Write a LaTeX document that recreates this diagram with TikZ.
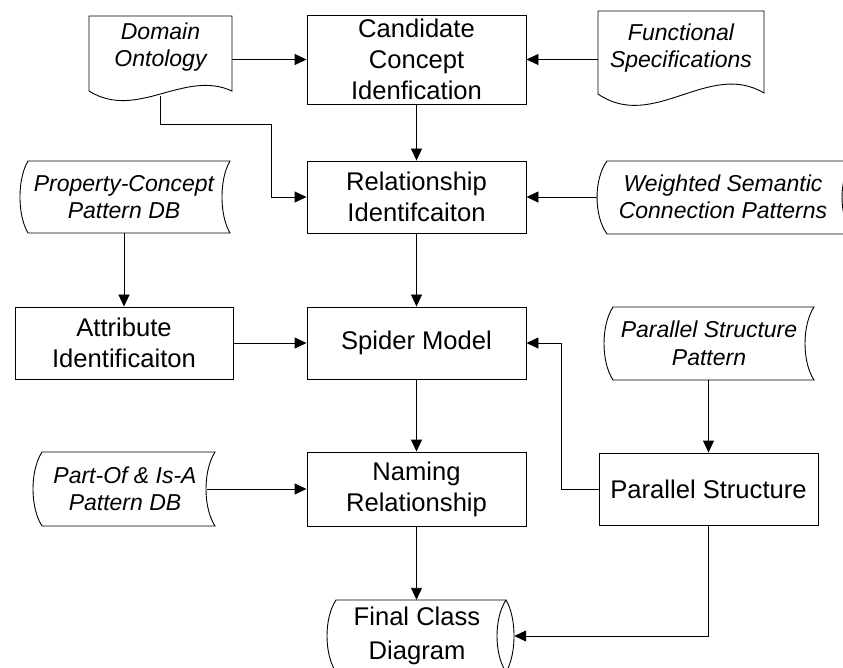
\documentclass[tikz,border=0pt]{standalone}
\usepackage{fontspec}
\setmainfont{Liberation Sans}
\usetikzlibrary{arrows.meta}
\begin{document}
\begin{tikzpicture}[x=1pt,y=-1pt,
  proc/.style={draw, line width=0.9pt, minimum width=219pt, minimum height=72pt, inner sep=0pt, align=center, font=\fontsize{25.6}{31}\selectfont},
  lbl/.style={inner sep=0pt, align=center, font=\fontsize{23}{27.5}\selectfont\itshape},
  outline/.style={draw, line width=0.9pt},
  conn/.style={line width=0.9pt, -{Triangle[length=12pt,width=11pt]}},
]
\useasboundingbox (0,0) rectangle (843,668);
\clip (0,0) rectangle (843,668);

% process boxes
\node[proc, minimum height=89pt] (cand) at (416.5,59.5) {Candidate\\Concept\\Idenfication};
\node[proc] (rel) at (416.5,197) {Relationship\\Identifcaiton};
\node[proc] (spider) at (416.5,343) {Spider Model};
\node[proc, minimum height=74pt] (naming) at (416.5,489) {Naming\\Relationship};
\node[proc, minimum width=218pt] (attr) at (124,343) {Attribute\\Identificaiton};
\node[proc] (par) at (708.5,489) {Parallel Structure};

% document shapes
\draw[outline] (89,16) -- (232,16) -- (232,91) .. controls (184,69) and (137,121) .. (89,91) -- cycle;
\draw[outline] (598,11) -- (764,11) -- (764,93) .. controls (708.7,60) and (653.3,132) .. (598,94) -- cycle;
\node[lbl, minimum width=143pt, minimum height=98pt] (dom) at (160.5,47) {Domain\\Ontology};
\node[lbl, minimum width=166pt] (func) at (681,48) {Functional\\Specifications};

% stored data shapes
\draw[outline] (28,161) -- (230,161) .. controls (219.3,179) and (219.3,215) .. (230,233) -- (28,233) .. controls (17.3,215) and (17.3,179) .. (28,161) -- cycle;
\node[lbl, minimum height=72pt] (prop) at (124,197) {Property-Concept\\Pattern DB};

\draw[outline] (607,161) -- (852,161) .. controls (838.7,179.25) and (838.7,215.75) .. (852,234) -- (607,234) .. controls (593.7,215.75) and (593.7,179.25) .. (607,161) -- cycle;
\node[lbl, minimum width=252pt] (ws) at (723,197) {Weighted Semantic\\Connection Patterns};

\draw[outline] (613,307) -- (814,307) .. controls (802,325.25) and (802,361.75) .. (814,380) -- (613,380) .. controls (601,361.75) and (601,325.25) .. (613,307) -- cycle;
\node[lbl, minimum height=73pt] (pspat) at (709,343.5) {Parallel Structure\\Pattern};

\draw[outline] (42,452) -- (215,452) .. controls (203,470.5) and (203,507.5) .. (215,526) -- (42,526) .. controls (30,507.5) and (30,470.5) .. (42,452) -- cycle;
\node[lbl, minimum width=164pt] (partof) at (125,489) {Part-Of \& Is-A\\Pattern DB};

\draw[outline] (336,600) -- (506,600) .. controls (494,618) and (494,654) .. (506,672) -- (336,672) .. controls (324,654) and (324,618) .. (336,600) -- cycle;
\draw[outline] (506,600) .. controls (516.7,618) and (516.7,654) .. (506,672);
\node[inner sep=0pt, align=center, font=\fontsize{25.6}{33.5}\selectfont, minimum width=194pt, minimum height=72pt] (final) at (417,636) {Final Class\\Diagram};

% connectors
\coordinate (k1) at (271,124);
\coordinate (k2) at (561,343);
\draw[conn] (cand.west -| dom.east) -- (cand.west);
\draw[conn] (cand.east -| func.west) -- (cand.east);
\draw[conn] (cand.south) -- (rel.north);
\draw[conn] (dom.south) |- (k1) |- (rel.west);
\draw[conn] (rel.east -| ws.west) -- (rel.east);
\draw[conn] (rel.south) -- (spider.north);
\draw[conn] (attr.north |- prop.south) -- (attr.north);
\draw[conn] (attr.east) -- (spider.west);
\draw[conn] (par.north |- pspat.south) -- (par.north);
\draw[conn] (par.west) -| (k2) -- (spider.east);
\draw[conn] (spider.south) -- (naming.north);
\draw[conn] (partof.east) -- (naming.west);
\draw[conn] (naming.south) -- (naming.south |- final.north);
\draw[conn] (par.south) |- (final.east);
\end{tikzpicture}
\end{document}
